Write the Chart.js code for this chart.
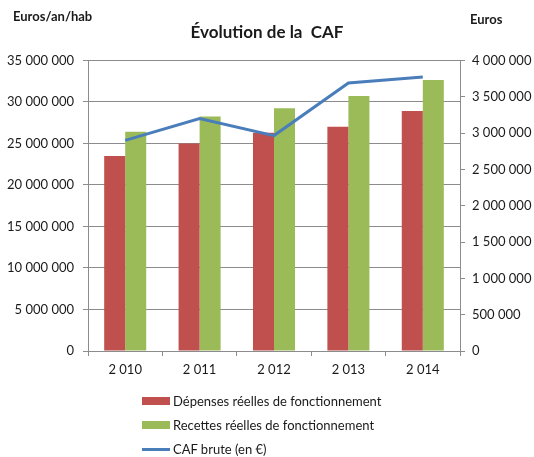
<!DOCTYPE html>
<html>
<head>
<meta charset="utf-8">
<script src="https://cdn.jsdelivr.net/npm/chart.js@4/dist/chart.umd.min.js"></script>
<style>
  body { margin: 0; background: #fff; }
  #boite { position: relative; width: 534px; height: 457px; }
  #legende { position: absolute; left: 142px; top: 389px; font: 13px Lato, sans-serif; color: #1a1a1a; }
  #legende div { display: flex; align-items: center; height: 24px; }
  #legende span.marque { display: inline-block; width: 28px; margin-right: 3px; }
</style>
</head>
<body>
<div id="boite">
  <canvas id="graficoCaf" width="534" height="457"></canvas>
  <div id="legende"></div>
</div>
<script>
const annees = [2010, 2011, 2012, 2013, 2014];
const depenses = [23500000, 25000000, 26300000, 27000000, 28900000];
const recettes = [26400000, 28250000, 29250000, 30700000, 32650000];
const cafBrute = [2900000, 3200000, 2965000, 3690000, 3770000];

function formatarNumero(v){
    return String(v).replace(/\B(?=(\d{3})+(?!\d))/g, ' ');
}

const cinza = '#8c8c8c';
const fonteTicks = { family: 'Lato', size: 13 };

const titulosEixos = {
    id: 'titulosEixos',
    afterDraw(chart){
        const ctx = chart.ctx;
        ctx.save();
        ctx.font = 'bold 13px Lato';
        ctx.fillStyle = '#1a1a1a';
        ctx.textBaseline = 'middle';
        ctx.textAlign = 'left';
        ctx.fillText('Euros/an/hab', 13, 17);
        ctx.fillText('Euros', 470, 20);
        ctx.restore();
    }
};

const $grafico = document.getElementById('graficoCaf');
const graficoCaf = new Chart($grafico, {
    type: 'bar',
    data: {
        labels: annees.map(formatarNumero),
        datasets: [{
            label: 'Dépenses réelles de fonctionnement',
            data: depenses,
            backgroundColor: '#C0504D',
            yAxisID: 'y',
            order: 1
        }, {
            label: 'Recettes réelles de fonctionnement',
            data: recettes,
            backgroundColor: '#9BBB59',
            yAxisID: 'y',
            order: 1
        }, {
            type: 'line',
            label: 'CAF brute (en €)',
            data: cafBrute,
            borderColor: '#4A7EBB',
            backgroundColor: '#4A7EBB',
            borderWidth: 3,
            pointRadius: 0,
            tension: 0,
            yAxisID: 'y1',
            order: 0
        }]
    },
    options: {
        responsive: false,
        animation: false,
        categoryPercentage: 0.565,
        barPercentage: 1,
        layout: { padding: { top: 0, bottom: 0, left: 0, right: 0 } },
        plugins: {
            legend: { display: false },
            tooltip: { enabled: false },
            title: {
                display: true,
                text: 'Évolution de la  CAF',
                color: '#1a1a1a',
                font: { family: 'Lato', size: 17, weight: 'bold' },
                padding: { top: 22, bottom: 18 }
            }
        },
        scales: {
            x: {
                grid: { display: true, drawOnChartArea: false, offset: true, color: cinza, tickLength: 5 },
                border: { color: cinza },
                ticks: { color: '#1a1a1a', font: fonteTicks, padding: 6 },
                afterFit(scale){ scale.height = 106; }
            },
            y: {
                position: 'left',
                min: 0,
                max: 35000000,
                ticks: { stepSize: 5000000, color: '#1a1a1a', font: fonteTicks, padding: 9, callback: formatarNumero },
                grid: { color: cinza, tickLength: 5 },
                border: { color: cinza },
                afterFit(scale){ scale.width = 88; }
            },
            y1: {
                position: 'right',
                min: 0,
                max: 4000000,
                ticks: { stepSize: 500000, color: '#1a1a1a', font: fonteTicks, padding: 7, callback: formatarNumero },
                grid: { drawOnChartArea: false, color: cinza, tickLength: 5 },
                border: { color: cinza },
                afterFit(scale){ scale.width = 74; }
            }
        }
    },
    plugins: [titulosEixos]
});

// légende verticale en HTML, construite à partir des datasets
const $legende = document.getElementById('legende');
graficoCaf.data.datasets.forEach((ds) => {
    const linha = document.createElement('div');
    const marque = document.createElement('span');
    marque.className = 'marque';
    marque.style.background = ds.type === 'line' ? ds.borderColor : ds.backgroundColor;
    marque.style.height = ds.type === 'line' ? '3px' : '8px';
    linha.appendChild(marque);
    linha.appendChild(document.createTextNode(ds.label));
    $legende.appendChild(linha);
});
</script>
</body>
</html>
